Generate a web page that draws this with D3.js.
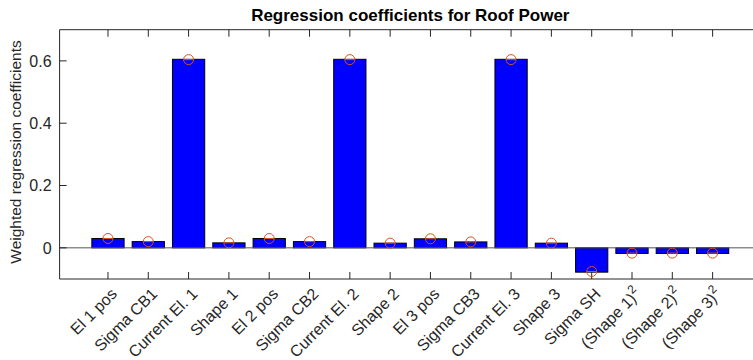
<!DOCTYPE html>
<html><head><meta charset="utf-8">
<script src="https://cdn.jsdelivr.net/npm/d3@7"></script>
<style>
html,body{margin:0;padding:0;background:#fff;}
svg{display:block;font-family:"Liberation Sans",Arial,Helvetica,sans-serif;}
</style></head>
<body><div id="chart"></div>
<script>
const categories = ["El 1 pos","Sigma CB1","Current El. 1","Shape 1","El 2 pos","Sigma CB2","Current El. 2","Shape 2","El 3 pos","Sigma CB3","Current El. 3","Shape 3","Sigma SH","(Shape 1)^2","(Shape 2)^2","(Shape 3)^2"];
const barValues = [0.030,0.020,0.605,0.016,0.030,0.020,0.605,0.015,0.029,0.019,0.605,0.015,-0.078,-0.018,-0.018,-0.018];
const markerValues = [0.030,0.020,0.604,0.016,0.030,0.020,0.604,0.015,0.029,0.019,0.604,0.015,-0.076,-0.017,-0.017,-0.017];
const yTicks = [0,0.2,0.4,0.6];
const yTickLabels = ["0","0.2","0.4","0.6"];
const xLim = [-0.2, 17.2];
const yLim = [-0.1, 0.7];
const titleText = "Regression coefficients for Roof Power";
const yLabelText = "Weighted regression coefficients";

(function(){
const W = 753, H = 360;
const mLeft = 59.6, mTop = 29.7, mBottom = 279;
const unit = 40.31;
const mRight = mLeft + (xLim[1]-xLim[0])*unit;

const svg = d3.select("#chart").append("svg").attr("width",W).attr("height",H);
const x = d3.scaleLinear().domain(xLim).range([mLeft,mRight]);
const y = d3.scaleLinear().domain(yLim).range([mBottom,mTop]);
const axisColor = "#262626";
const barW = 0.8;
const fs = 16;

// bars
svg.append("g").selectAll("rect").data(barValues).join("rect")
  .attr("x",(d,i)=>x(i+1-barW/2))
  .attr("width",(d,i)=>x(i+1+barW/2)-x(i+1-barW/2))
  .attr("y",d=>y(Math.max(0,d)))
  .attr("height",d=>Math.abs(y(d)-y(0)))
  .attr("fill","#0000ff").attr("stroke","#000").attr("stroke-width",1);

// baseline
svg.append("line").attr("x1",mLeft).attr("x2",mRight).attr("y1",y(0)).attr("y2",y(0))
  .attr("stroke","#555").attr("stroke-width",1);

// axes box (left, top, bottom)
const g = svg.append("g").attr("fill","none").attr("stroke",axisColor).attr("stroke-width",1);
g.append("line").attr("x1",mLeft).attr("x2",mRight).attr("y1",mTop).attr("y2",mTop);
g.append("line").attr("x1",mLeft).attr("x2",mRight).attr("y1",mBottom).attr("y2",mBottom);
g.append("line").attr("x1",mLeft).attr("x2",mLeft).attr("y1",mTop).attr("y2",mBottom);

// x ticks (bottom and top, inward)
const xt = d3.range(1, categories.length+1);
const tl = 7;
svg.append("g").selectAll("line").data(xt).join("line")
  .attr("x1",d=>x(d)).attr("x2",d=>x(d)).attr("y1",mBottom).attr("y2",mBottom-tl)
  .attr("stroke",axisColor);
svg.append("g").selectAll("line").data(xt).join("line")
  .attr("x1",d=>x(d)).attr("x2",d=>x(d)).attr("y1",mTop).attr("y2",mTop+tl)
  .attr("stroke",axisColor);

// y ticks
svg.append("g").selectAll("line").data(yTicks).join("line")
  .attr("x1",mLeft).attr("x2",mLeft+tl).attr("y1",d=>y(d)).attr("y2",d=>y(d))
  .attr("stroke",axisColor);
svg.append("g").selectAll("text").data(yTicks).join("text")
  .attr("x",mLeft-8).attr("y",d=>y(d)).attr("dy","0.36em")
  .attr("text-anchor","end").attr("font-size",fs).attr("fill",axisColor)
  .text((d,i)=>yTickLabels[i]);

// x tick labels rotated
const xl = svg.append("g").selectAll("text").data(categories).join("text")
  .attr("transform",(d,i)=>`translate(${x(i+1)+6},${mBottom+12}) rotate(-45)`)
  .attr("text-anchor","end").attr("dy","0.35em")
  .attr("font-size",fs).attr("fill",axisColor);
xl.each(function(d){
  const t = d3.select(this);
  const m = d.match(/^(.*)\^(\d)$/);
  if(m){
    t.append("tspan").text(m[1]);
    t.append("tspan").attr("dy","-0.6em").attr("font-size",12).text(m[2]);
  } else t.text(d);
});

// markers with error caps
const mk = svg.append("g").attr("fill","none").attr("stroke","#d95319").attr("stroke-width",1);
mk.selectAll("circle").data(markerValues).join("circle")
  .attr("cx",(d,i)=>x(i+1)).attr("cy",d=>y(d)).attr("r",5);
mk.selectAll("line").data(markerValues).join("line")
  .attr("x1",(d,i)=>x(i+1)-5).attr("x2",(d,i)=>x(i+1)+5)
  .attr("y1",d=>y(d)).attr("y2",d=>y(d));

// title
svg.append("text").attr("x",(mLeft+mRight)/2).attr("y",20.5).attr("text-anchor","middle")
  .attr("font-size",17).attr("font-weight","bold").attr("fill","#000").text(titleText);

// y label
svg.append("text").attr("transform",`translate(21,152) rotate(-90)`)
  .attr("text-anchor","middle").attr("font-size",15.5).attr("fill",axisColor).text(yLabelText);
})();
</script></body></html>
